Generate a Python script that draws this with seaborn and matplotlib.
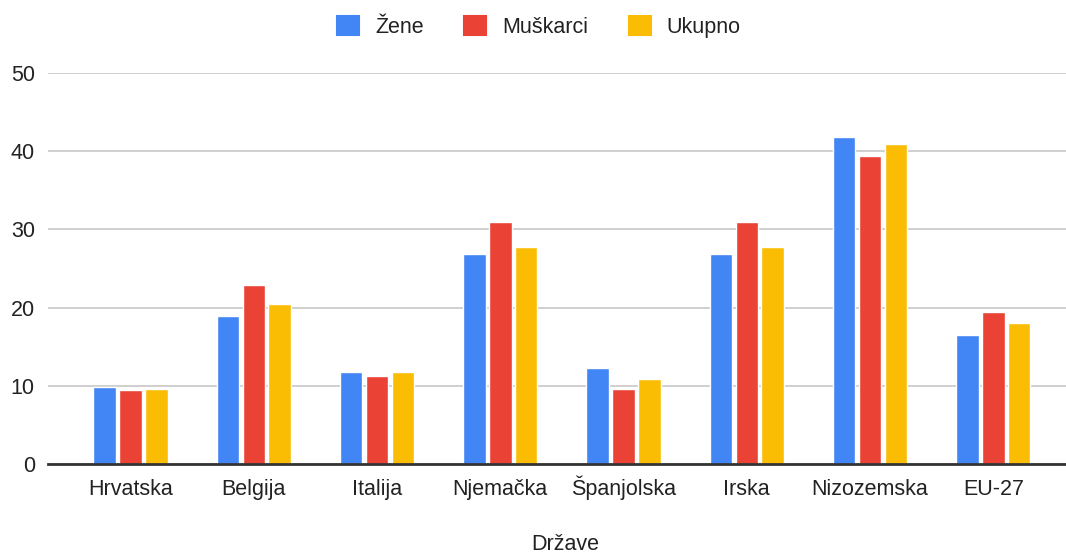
import pandas as pd
import seaborn as sns
import matplotlib.pyplot as plt
from matplotlib.patches import Patch

drzave = ["Hrvatska", "Belgija", "Italija", "Njemačka", "Španjolska", "Irska", "Nizozemska", "EU-27"]
zene = [9.9, 18.9, 11.8, 26.8, 12.3, 26.8, 41.8, 16.5]
muskarci = [9.4, 22.9, 11.3, 31.0, 9.6, 31.0, 39.4, 19.4]
ukupno = [9.6, 20.5, 11.8, 27.8, 10.9, 27.8, 40.9, 18.0]
serije = ["Žene", "Muškarci", "Ukupno"]
boje = ["#4285F4", "#EA4335", "#FBBC04"]

df = pd.DataFrame({"Države": drzave, "Žene": zene, "Muškarci": muskarci, "Ukupno": ukupno})
df = df.melt(id_vars="Države", var_name="Spol", value_name="Vrijednost")

sns.set_style("white")
plt.rcParams['font.family'] = ['Liberation Sans', 'DejaVu Sans']
tekst = "#222222"

fig = plt.figure(figsize=(10.66, 5.54), dpi=100)
ax = fig.add_axes([48 / 1066, 90 / 554, 1018 / 1066, 391 / 554])

sns.barplot(data=df, x="Države", y="Vrijednost", hue="Spol", hue_order=serije,
            palette=boje, width=0.63, gap=0.13, ax=ax, saturation=1, legend=False)

ax.set_ylim(0, 50)
ax.set_xlim(-0.67, 7.59)
ax.set_yticks([0, 10, 20, 30, 40, 50])
ax.yaxis.grid(True, color="#cccccc", linewidth=1.3)
ax.set_axisbelow(True)
for s in ["top", "right", "left"]:
    ax.spines[s].set_visible(False)
ax.spines["bottom"].set_color("#333333")
ax.spines["bottom"].set_linewidth(2)
ax.tick_params(axis="y", length=0, labelsize=15.5, colors=tekst, pad=9.5)
ax.tick_params(axis="x", length=0, labelsize=15.5, colors=tekst, pad=22)
for lab in ax.get_xticklabels():
    lab.set_verticalalignment("baseline")
ax.set_ylabel("")
ax.set_xlabel("")
fig.text(565 / 1066, 1 - 545 / 554, "Države", fontsize=15.5, color=tekst, ha="center", va="center")

ruke = [Patch(facecolor=c, edgecolor=c, linewidth=1.5, joinstyle="round") for c in boje]
fig.legend(ruke, serije, loc="center", bbox_to_anchor=(539 / 1066, 1 - 27 / 554), ncol=3,
           frameon=False, fontsize=15.5, handlelength=1.0, handleheight=1.0,
           handletextpad=0.75, columnspacing=1.9, labelcolor=tekst)

fig.savefig("out.png", dpi=100)
